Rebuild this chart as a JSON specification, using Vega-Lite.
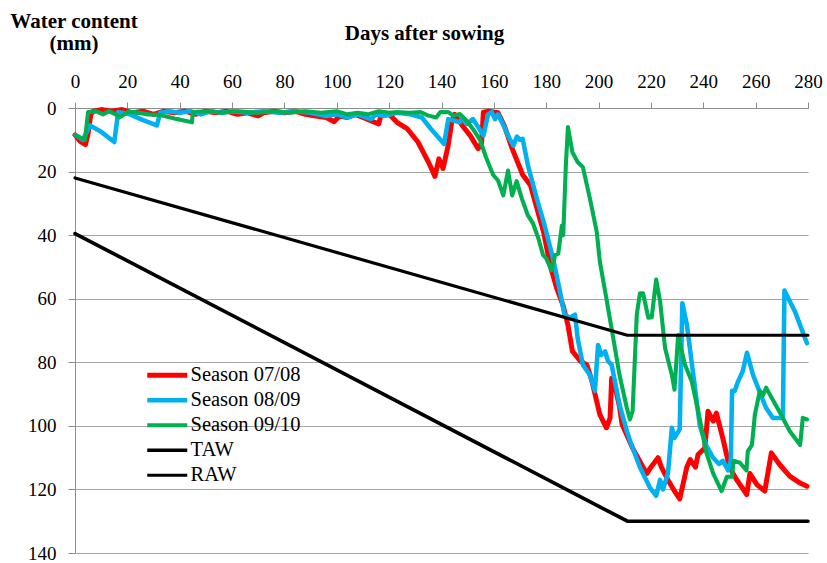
{
  "$schema": "https://vega.github.io/schema/vega-lite/v6.json",
  "width": 733,
  "height": 445,
  "autosize": "none",
  "padding": {"left": 75, "top": 108, "right": 19, "bottom": 10},
  "background": "white",
  "config": {"view": {"stroke": null}, "font": "Liberation Serif"},
  "data": {"values": [
    {"series":"Season 07/08","day":0,"mm":8.5},{"series":"Season 07/08","day":2,"mm":10.5},{"series":"Season 07/08","day":4,"mm":11.5},{"series":"Season 07/08","day":5,"mm":8},{"series":"Season 07/08","day":6,"mm":2},{"series":"Season 07/08","day":7,"mm":1},{"series":"Season 07/08","day":10,"mm":0.5},{"series":"Season 07/08","day":14,"mm":1},{"series":"Season 07/08","day":18,"mm":0.5},{"series":"Season 07/08","day":22,"mm":1.5},{"series":"Season 07/08","day":26,"mm":1},{"series":"Season 07/08","day":30,"mm":2},{"series":"Season 07/08","day":34,"mm":1},{"series":"Season 07/08","day":38,"mm":1.5},{"series":"Season 07/08","day":42,"mm":1},{"series":"Season 07/08","day":46,"mm":2},{"series":"Season 07/08","day":50,"mm":1},{"series":"Season 07/08","day":54,"mm":1.5},{"series":"Season 07/08","day":58,"mm":1},{"series":"Season 07/08","day":62,"mm":2},{"series":"Season 07/08","day":66,"mm":1.5},{"series":"Season 07/08","day":70,"mm":2.5},{"series":"Season 07/08","day":72,"mm":1.5},{"series":"Season 07/08","day":76,"mm":1},{"series":"Season 07/08","day":80,"mm":1.5},{"series":"Season 07/08","day":84,"mm":1},{"series":"Season 07/08","day":88,"mm":2},{"series":"Season 07/08","day":92,"mm":2.5},{"series":"Season 07/08","day":96,"mm":3},{"series":"Season 07/08","day":99,"mm":4.3},{"series":"Season 07/08","day":101,"mm":2.5},{"series":"Season 07/08","day":104,"mm":3},{"series":"Season 07/08","day":107,"mm":2},{"series":"Season 07/08","day":110,"mm":3},{"series":"Season 07/08","day":113,"mm":4},{"series":"Season 07/08","day":116,"mm":5},{"series":"Season 07/08","day":117,"mm":2},{"series":"Season 07/08","day":120,"mm":2},{"series":"Season 07/08","day":123,"mm":4.5},{"series":"Season 07/08","day":127,"mm":6.6},{"series":"Season 07/08","day":131,"mm":10.7},{"series":"Season 07/08","day":135,"mm":17},{"series":"Season 07/08","day":137.5,"mm":21.5},{"series":"Season 07/08","day":139,"mm":16},{"series":"Season 07/08","day":140.6,"mm":19},{"series":"Season 07/08","day":142.5,"mm":12},{"series":"Season 07/08","day":144,"mm":4},{"series":"Season 07/08","day":145,"mm":2},{"series":"Season 07/08","day":148,"mm":5.6},{"series":"Season 07/08","day":151,"mm":8.7},{"series":"Season 07/08","day":154,"mm":12.8},{"series":"Season 07/08","day":155.3,"mm":11},{"series":"Season 07/08","day":156,"mm":1.3},{"series":"Season 07/08","day":158,"mm":1},{"series":"Season 07/08","day":161.6,"mm":1.5},{"series":"Season 07/08","day":164,"mm":5.6},{"series":"Season 07/08","day":167,"mm":12.8},{"series":"Season 07/08","day":171,"mm":21},{"series":"Season 07/08","day":174,"mm":24.3},{"series":"Season 07/08","day":176.5,"mm":31.7},{"series":"Season 07/08","day":179,"mm":39},{"series":"Season 07/08","day":181.5,"mm":49.5},{"series":"Season 07/08","day":184,"mm":56.7},{"series":"Season 07/08","day":186.4,"mm":62},{"series":"Season 07/08","day":188.3,"mm":68.3},{"series":"Season 07/08","day":190,"mm":76.5},{"series":"Season 07/08","day":193,"mm":79.6},{"series":"Season 07/08","day":195.5,"mm":80.8},{"series":"Season 07/08","day":197.5,"mm":86},{"series":"Season 07/08","day":200.5,"mm":96.5},{"series":"Season 07/08","day":203,"mm":100.6},{"series":"Season 07/08","day":204.4,"mm":97.5},{"series":"Season 07/08","day":205,"mm":85},{"series":"Season 07/08","day":205.6,"mm":85},{"series":"Season 07/08","day":208,"mm":94},{"series":"Season 07/08","day":209,"mm":99.6},{"series":"Season 07/08","day":213,"mm":107},{"series":"Season 07/08","day":217,"mm":113},{"series":"Season 07/08","day":218.4,"mm":115},{"series":"Season 07/08","day":220,"mm":113},{"series":"Season 07/08","day":222.7,"mm":110},{"series":"Season 07/08","day":224,"mm":113},{"series":"Season 07/08","day":226.5,"mm":117},{"series":"Season 07/08","day":229,"mm":120.5},{"series":"Season 07/08","day":231,"mm":123},{"series":"Season 07/08","day":233.7,"mm":113},{"series":"Season 07/08","day":235,"mm":110.6},{"series":"Season 07/08","day":237,"mm":113},{"series":"Season 07/08","day":238,"mm":109},{"series":"Season 07/08","day":240.6,"mm":107},{"series":"Season 07/08","day":241.8,"mm":95.4},{"series":"Season 07/08","day":243.8,"mm":98.5},{"series":"Season 07/08","day":245,"mm":96},{"series":"Season 07/08","day":247.5,"mm":104},{"series":"Season 07/08","day":250,"mm":113},{"series":"Season 07/08","day":252.8,"mm":117},{"series":"Season 07/08","day":256.6,"mm":121.6},{"series":"Season 07/08","day":257.8,"mm":115},{"series":"Season 07/08","day":260.5,"mm":118.5},{"series":"Season 07/08","day":263.5,"mm":120.5},{"series":"Season 07/08","day":266,"mm":108.5},{"series":"Season 07/08","day":269,"mm":112},{"series":"Season 07/08","day":273,"mm":115.8},{"series":"Season 07/08","day":277,"mm":118},{"series":"Season 07/08","day":279.6,"mm":119},

    {"series":"Season 08/09","day":0,"mm":8.5},{"series":"Season 08/09","day":1.3,"mm":9},{"series":"Season 08/09","day":3,"mm":10},{"series":"Season 08/09","day":5.7,"mm":5.5},{"series":"Season 08/09","day":10,"mm":7.5},{"series":"Season 08/09","day":15,"mm":10.7},{"series":"Season 08/09","day":16.5,"mm":1.3},{"series":"Season 08/09","day":18,"mm":1.5},{"series":"Season 08/09","day":21,"mm":2},{"series":"Season 08/09","day":26,"mm":3.8},{"series":"Season 08/09","day":31.3,"mm":5.5},{"series":"Season 08/09","day":32.5,"mm":1.5},{"series":"Season 08/09","day":36,"mm":1},{"series":"Season 08/09","day":40,"mm":1.5},{"series":"Season 08/09","day":44,"mm":1},{"series":"Season 08/09","day":48,"mm":2},{"series":"Season 08/09","day":52,"mm":1},{"series":"Season 08/09","day":56,"mm":1.5},{"series":"Season 08/09","day":60,"mm":1},{"series":"Season 08/09","day":66,"mm":1.5},{"series":"Season 08/09","day":72,"mm":1},{"series":"Season 08/09","day":78,"mm":1.5},{"series":"Season 08/09","day":84,"mm":1},{"series":"Season 08/09","day":90,"mm":1.5},{"series":"Season 08/09","day":96,"mm":2.5},{"series":"Season 08/09","day":100,"mm":2},{"series":"Season 08/09","day":104,"mm":3},{"series":"Season 08/09","day":108,"mm":2},{"series":"Season 08/09","day":113,"mm":3.5},{"series":"Season 08/09","day":115,"mm":2},{"series":"Season 08/09","day":118,"mm":2.5},{"series":"Season 08/09","day":123,"mm":1.5},{"series":"Season 08/09","day":128,"mm":2},{"series":"Season 08/09","day":132.5,"mm":3},{"series":"Season 08/09","day":136,"mm":6.6},{"series":"Season 08/09","day":141,"mm":11.3},{"series":"Season 08/09","day":142.6,"mm":3.5},{"series":"Season 08/09","day":145,"mm":4},{"series":"Season 08/09","day":147,"mm":4.5},{"series":"Season 08/09","day":148,"mm":3},{"series":"Season 08/09","day":149.7,"mm":5},{"series":"Season 08/09","day":152,"mm":3.5},{"series":"Season 08/09","day":154,"mm":6},{"series":"Season 08/09","day":156,"mm":8.7},{"series":"Season 08/09","day":157.8,"mm":2},{"series":"Season 08/09","day":159.2,"mm":1.3},{"series":"Season 08/09","day":160.4,"mm":3.5},{"series":"Season 08/09","day":161.6,"mm":2},{"series":"Season 08/09","day":164,"mm":6},{"series":"Season 08/09","day":166,"mm":9.7},{"series":"Season 08/09","day":167.5,"mm":11.8},{"series":"Season 08/09","day":168.8,"mm":9},{"series":"Season 08/09","day":170,"mm":10},{"series":"Season 08/09","day":171,"mm":9.7},{"series":"Season 08/09","day":173,"mm":18},{"series":"Season 08/09","day":176.4,"mm":28.5},{"series":"Season 08/09","day":179,"mm":35.8},{"series":"Season 08/09","day":182.6,"mm":47.3},{"series":"Season 08/09","day":185,"mm":56.7},{"series":"Season 08/09","day":187,"mm":65},{"series":"Season 08/09","day":189,"mm":66},{"series":"Season 08/09","day":191,"mm":65},{"series":"Season 08/09","day":192,"mm":72.4},{"series":"Season 08/09","day":194,"mm":80.8},{"series":"Season 08/09","day":196.7,"mm":84},{"series":"Season 08/09","day":198.6,"mm":89},{"series":"Season 08/09","day":199.8,"mm":74.6},{"series":"Season 08/09","day":201,"mm":77.7},{"series":"Season 08/09","day":202.5,"mm":76.6},{"series":"Season 08/09","day":203.6,"mm":79.6},{"series":"Season 08/09","day":205,"mm":80.8},{"series":"Season 08/09","day":208,"mm":93.4},{"series":"Season 08/09","day":210.8,"mm":101.6},{"series":"Season 08/09","day":212,"mm":104.7},{"series":"Season 08/09","day":215.8,"mm":113},{"series":"Season 08/09","day":219.6,"mm":119.4},{"series":"Season 08/09","day":222,"mm":122},{"series":"Season 08/09","day":223.5,"mm":117},{"series":"Season 08/09","day":224.6,"mm":120},{"series":"Season 08/09","day":226.5,"mm":115},{"series":"Season 08/09","day":228,"mm":100.6},{"series":"Season 08/09","day":229,"mm":103.8},{"series":"Season 08/09","day":231,"mm":101},{"series":"Season 08/09","day":232,"mm":61.4},{"series":"Season 08/09","day":233.7,"mm":68},{"series":"Season 08/09","day":236,"mm":82.8},{"series":"Season 08/09","day":238.7,"mm":100},{"series":"Season 08/09","day":241,"mm":106},{"series":"Season 08/09","day":243.7,"mm":110},{"series":"Season 08/09","day":246,"mm":112},{"series":"Season 08/09","day":247.5,"mm":111},{"series":"Season 08/09","day":249.5,"mm":114},{"series":"Season 08/09","day":250.5,"mm":111},{"series":"Season 08/09","day":251,"mm":89},{"series":"Season 08/09","day":252,"mm":89},{"series":"Season 08/09","day":253.3,"mm":86},{"series":"Season 08/09","day":255,"mm":83},{"series":"Season 08/09","day":256.7,"mm":77},{"series":"Season 08/09","day":259,"mm":84},{"series":"Season 08/09","day":264,"mm":94.4},{"series":"Season 08/09","day":266.6,"mm":97.5},{"series":"Season 08/09","day":270.4,"mm":97.5},{"series":"Season 08/09","day":271,"mm":57.4},{"series":"Season 08/09","day":275,"mm":64},{"series":"Season 08/09","day":279.6,"mm":74},

    {"series":"Season 09/10","day":0,"mm":8.5},{"series":"Season 09/10","day":3.8,"mm":10},{"series":"Season 09/10","day":5,"mm":1.3},{"series":"Season 09/10","day":8,"mm":1},{"series":"Season 09/10","day":10.7,"mm":2},{"series":"Season 09/10","day":13,"mm":1},{"series":"Season 09/10","day":15.3,"mm":1.9},{"series":"Season 09/10","day":17,"mm":2.9},{"series":"Season 09/10","day":18,"mm":2.5},{"series":"Season 09/10","day":20,"mm":1.3},{"series":"Season 09/10","day":23,"mm":1.3},{"series":"Season 09/10","day":28,"mm":2},{"series":"Season 09/10","day":32.5,"mm":2.2},{"series":"Season 09/10","day":38,"mm":3.3},{"series":"Season 09/10","day":44.7,"mm":4.5},{"series":"Season 09/10","day":45,"mm":1.3},{"series":"Season 09/10","day":50,"mm":1},{"series":"Season 09/10","day":56,"mm":1.5},{"series":"Season 09/10","day":62,"mm":1},{"series":"Season 09/10","day":70,"mm":1.5},{"series":"Season 09/10","day":76,"mm":1},{"series":"Season 09/10","day":82,"mm":1.5},{"series":"Season 09/10","day":88,"mm":1},{"series":"Season 09/10","day":94,"mm":1.5},{"series":"Season 09/10","day":100,"mm":1},{"series":"Season 09/10","day":104,"mm":2},{"series":"Season 09/10","day":108,"mm":1.5},{"series":"Season 09/10","day":112,"mm":2},{"series":"Season 09/10","day":116,"mm":1},{"series":"Season 09/10","day":120,"mm":1.5},{"series":"Season 09/10","day":123,"mm":1.3},{"series":"Season 09/10","day":128,"mm":1.5},{"series":"Season 09/10","day":132,"mm":1.3},{"series":"Season 09/10","day":135,"mm":2.4},{"series":"Season 09/10","day":138,"mm":3},{"series":"Season 09/10","day":139.5,"mm":1.3},{"series":"Season 09/10","day":142.6,"mm":1.3},{"series":"Season 09/10","day":144.5,"mm":2.4},{"series":"Season 09/10","day":147,"mm":1.9},{"series":"Season 09/10","day":149.6,"mm":4},{"series":"Season 09/10","day":152,"mm":6.6},{"series":"Season 09/10","day":154.7,"mm":10},{"series":"Season 09/10","day":157,"mm":15.5},{"series":"Season 09/10","day":159.7,"mm":21},{"series":"Season 09/10","day":161.6,"mm":22.8},{"series":"Season 09/10","day":163.6,"mm":27.5},{"series":"Season 09/10","day":165.4,"mm":19.7},{"series":"Season 09/10","day":167,"mm":27.5},{"series":"Season 09/10","day":168.7,"mm":23},{"series":"Season 09/10","day":170.7,"mm":28.5},{"series":"Season 09/10","day":173,"mm":33.8},{"series":"Season 09/10","day":175,"mm":36.4},{"series":"Season 09/10","day":177,"mm":41},{"series":"Season 09/10","day":178.8,"mm":46.3},{"series":"Season 09/10","day":180,"mm":47.3},{"series":"Season 09/10","day":182,"mm":51},{"series":"Season 09/10","day":183.4,"mm":46.3},{"series":"Season 09/10","day":184.6,"mm":45.8},{"series":"Season 09/10","day":186,"mm":37},{"series":"Season 09/10","day":186.5,"mm":40},{"series":"Season 09/10","day":187.5,"mm":18},{"series":"Season 09/10","day":188.3,"mm":6},{"series":"Season 09/10","day":190,"mm":13.9},{"series":"Season 09/10","day":192,"mm":17},{"series":"Season 09/10","day":194,"mm":18.6},{"series":"Season 09/10","day":196.7,"mm":28.5},{"series":"Season 09/10","day":199.3,"mm":39},{"series":"Season 09/10","day":200.5,"mm":48.4},{"series":"Season 09/10","day":203,"mm":60},{"series":"Season 09/10","day":205.6,"mm":72.4},{"series":"Season 09/10","day":208,"mm":84},{"series":"Season 09/10","day":210.8,"mm":94.4},{"series":"Season 09/10","day":212,"mm":98},{"series":"Season 09/10","day":213,"mm":95.4},{"series":"Season 09/10","day":214.6,"mm":65},{"series":"Season 09/10","day":215.8,"mm":58.3},{"series":"Season 09/10","day":217,"mm":58.3},{"series":"Season 09/10","day":219,"mm":66},{"series":"Season 09/10","day":220.3,"mm":65.8},{"series":"Season 09/10","day":222,"mm":54},{"series":"Season 09/10","day":223.5,"mm":60.8},{"series":"Season 09/10","day":225.4,"mm":75.5},{"series":"Season 09/10","day":228,"mm":84},{"series":"Season 09/10","day":229,"mm":88.6},{"series":"Season 09/10","day":230.4,"mm":71.4},{"series":"Season 09/10","day":231.8,"mm":76.6},{"series":"Season 09/10","day":233,"mm":80.8},{"series":"Season 09/10","day":235.6,"mm":86},{"series":"Season 09/10","day":238.7,"mm":98},{"series":"Season 09/10","day":241,"mm":108},{"series":"Season 09/10","day":243.8,"mm":115},{"series":"Season 09/10","day":247,"mm":120.5},{"series":"Season 09/10","day":249,"mm":116},{"series":"Season 09/10","day":251,"mm":116},{"series":"Season 09/10","day":251.5,"mm":111},{"series":"Season 09/10","day":254,"mm":111.6},{"series":"Season 09/10","day":256.5,"mm":114},{"series":"Season 09/10","day":257,"mm":108},{"series":"Season 09/10","day":258.6,"mm":106},{"series":"Season 09/10","day":259.7,"mm":96.5},{"series":"Season 09/10","day":261.6,"mm":89},{"series":"Season 09/10","day":262.8,"mm":90.4},{"series":"Season 09/10","day":264,"mm":88},{"series":"Season 09/10","day":266,"mm":91},{"series":"Season 09/10","day":269,"mm":95.4},{"series":"Season 09/10","day":273,"mm":101.6},{"series":"Season 09/10","day":277,"mm":106},{"series":"Season 09/10","day":278,"mm":97.5},{"series":"Season 09/10","day":279.6,"mm":98},

    {"series":"TAW","day":0,"mm":39.5},{"series":"TAW","day":211,"mm":130},{"series":"TAW","day":280,"mm":130},
    {"series":"RAW","day":0,"mm":22},{"series":"RAW","day":211,"mm":71.5},{"series":"RAW","day":280,"mm":71.5}
  ]},
  "mark": {"type": "line", "strokeJoin": "round", "strokeCap": "round"},
  "encoding": {
    "x": {
      "field": "day", "type": "quantitative",
      "scale": {"domain": [0, 280], "nice": false, "zero": false},
      "axis": {
        "orient": "top", "values": [0, 20, 40, 60, 80, 100, 120, 140, 160, 180, 200, 220, 240, 260, 280],
        "grid": false, "domainColor": "#8c8c8c", "tickColor": "#8c8c8c", "tickSize": 6,
        "labelFont": "Liberation Serif", "labelFontSize": 19, "labelColor": "#000000", "labelPadding": 11,
        "labelFlush": false, "labelOverlap": false,
        "title": "Days after sowing", "titleFont": "Liberation Serif", "titleFontSize": 21,
        "titleFontWeight": "bold", "titleColor": "#000000",
        "titleX": 349, "titleY": -69, "titleAlign": "center", "titleBaseline": "alphabetic"
      }
    },
    "y": {
      "field": "mm", "type": "quantitative",
      "scale": {"domain": [0, 140], "reverse": true, "nice": false},
      "axis": {
        "values": [0, 20, 40, 60, 80, 100, 120, 140],
        "grid": true, "gridColor": "#a6a6a6", "gridWidth": 1.2,
        "domainColor": "#8c8c8c", "tickColor": "#8c8c8c", "tickSize": 7,
        "labelFont": "Liberation Serif", "labelFontSize": 19, "labelColor": "#000000", "labelPadding": 12,
        "labelFlush": false, "labelOverlap": false,
        "title": ["Water content", "(mm)"], "titleFont": "Liberation Serif", "titleFontSize": 21,
        "titleFontWeight": "bold", "titleColor": "#000000", "titleAngle": 0, "titleLineHeight": 22,
        "titleX": -1.5, "titleY": -81, "titleAlign": "center", "titleBaseline": "alphabetic"
      }
    },
    "color": {
      "field": "series", "type": "nominal",
      "scale": {
        "domain": ["Season 07/08", "Season 08/09", "Season 09/10", "TAW", "RAW"],
        "range": ["#ff0000", "#00b0f0", "#00b050", "#000000", "#000000"]
      },
      "legend": {
        "title": null, "orient": "none", "legendX": 62, "legendY": 257,
        "symbolType": "M0,0H8", "symbolSize": 100, "labelOffset": 33,
        "labelFont": "Liberation Serif", "labelFontSize": 20.5, "labelColor": "#000000",
        "rowPadding": 4, "padding": 0
      }
    },
    "strokeWidth": {
      "field": "series", "type": "nominal",
      "scale": {
        "domain": ["Season 07/08", "Season 08/09", "Season 09/10", "TAW", "RAW"],
        "range": [5, 3.2, 3.2, 5.5, 2.8]
      },
      "legend": {
        "title": null, "orient": "none", "legendX": 62, "legendY": 257,
        "symbolType": "M0,0H8", "symbolSize": 100, "labelOffset": 33,
        "labelFont": "Liberation Serif", "labelFontSize": 20.5, "labelColor": "#000000",
        "rowPadding": 4, "padding": 0
      }
    }
  }
}
